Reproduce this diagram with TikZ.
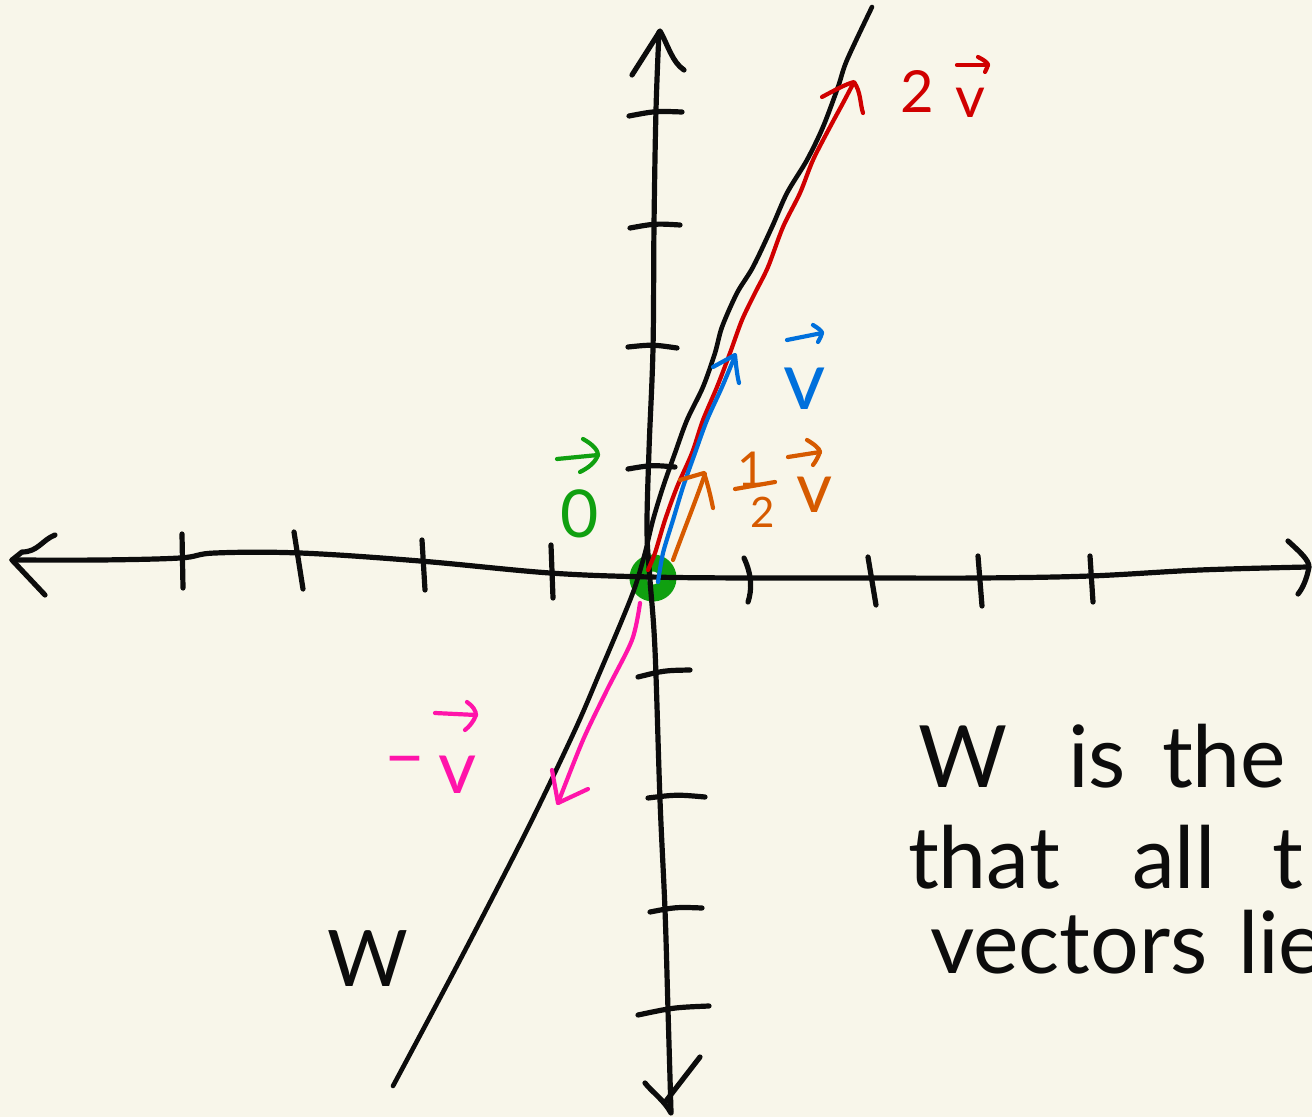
\documentclass[tikz,border=0pt]{standalone}
\usepackage{fontspec}
\setmainfont{Lato}
\definecolor{bg}{RGB}{248,246,234}
\definecolor{inkc}{RGB}{12,12,12}
\definecolor{penred}{RGB}{208,0,0}
\definecolor{penblue}{RGB}{0,112,220}
\definecolor{penorange}{RGB}{214,90,0}
\definecolor{pengreen}{RGB}{16,160,16}
\definecolor{penpink}{RGB}{255,20,170}
\newcommand{\fs}[1]{\fontsize{#1}{#1}\selectfont}
\begin{document}
\begin{tikzpicture}[x=0.5pt,y=-0.5pt,line cap=round,line join=round,
  axisline/.style={draw=inkc,line width=2.6pt},
  wline/.style={draw=inkc,line width=2.3pt},
  vecline/.style={line width=2.1pt},
  lbl/.style={inner sep=0pt,outer sep=0pt},
  word/.style={inner sep=0pt,outer sep=0pt,anchor=base west,text=inkc,font=\fs{43pt}}]
\fill[bg] (0,0) rectangle (1312,1117);
\useasboundingbox (0,0) rectangle (1312,1117);
\clip (0,0) rectangle (1312,1117);

% zero vector blob
\coordinate (O) at (653,578);
\draw[pengreen,line width=8.5pt] (O) circle[radius=15];

% horizontal axis
\draw[axisline] plot[smooth,tension=0.6] coordinates {(12,560) (100,560) (180,558) (215,553) (300,553) (420,561) (550,573) (650,577) (750,578) (870,578) (980,578) (1090,576) (1200,570) (1308,567)};
\draw[axisline] (55,535) .. controls (42,540) and (38,552) .. (22,552) -- (12,560) -- (45,595);
\draw[axisline] (1288,541) .. controls (1300,552) and (1309,560) .. (1309,567) .. controls (1307,578) and (1303,588) .. (1298,594);
\foreach \a/\b/\c/\d in {182/534/183/588, 294/532/303/589, 422/540/425/590, 551/545/553/598, 868/557/876/605, 978/556/982/606, 1090/556/1093/602}
  \draw[axisline] (\a,\b) -- (\c,\d);
\draw[axisline] (744,558) .. controls (752,575) and (752,590) .. (748,602);

% vertical axis
\draw[axisline] plot[smooth,tension=0.6] coordinates {(659,32) (656,110) (654,225) (653,348) (649,450) (647,530) (650,580) (655,650) (660,800) (665,910) (668,1010) (671,1112)};
\draw[axisline] (632,75) -- (660,31) .. controls (668,45) and (672,62) .. (684,70);
\draw[axisline] (645,1083) .. controls (652,1092) and (664,1100) .. (671,1113);
\draw[axisline] (700,1057) -- (666,1101);
\foreach \a/\b/\c/\d in {629/116/682/112, 630/228/680/225, 628/347/677/348, 628/469/675/467, 638/677/690/670, 648/798/705/797, 650/912/702/908, 638/1015/709/1006}
  \draw[axisline] (\a,\b) .. controls ({(\a+\c)/2},{(\b+\d)/2-3}) .. (\c,\d);

% subspace line W
\draw[wline] plot[smooth,tension=0.5] coordinates {(393,1086) (460,960) (527,830) (575,730) (600,672) (622,620) (635,587) (645,553) (653,520) (663,487) (675,453) (687,420) (703,387) (715,353) (722,327) (737,293) (753,267) (772,227) (787,193) (807,160) (823,127) (838,87) (847,60) (872,7)};

% 2v (red)
\draw[penred,vecline] plot[smooth,tension=0.5] coordinates {(648,570) (655,553) (665,520) (677,487) (692,453) (703,420) (717,387) (730,353) (742,320) (755,293) (768,267) (783,227) (800,193) (813,160) (830,127) (843,103) (853,84)};
\draw[penred,vecline] (822,97) .. controls (835,90) and (846,84) .. (854,82) .. controls (861,92) and (860,104) .. (863,113);

% v (blue)
\draw[penblue,vecline] plot[smooth,tension=0.5] coordinates {(658,582) (663,553) (673,520) (683,487) (695,453) (707,420) (722,387) (735,356)};
\draw[penblue,vecline] (713,367) -- (735,355) .. controls (736,365) and (737,375) .. (739,383);

% 1/2 v (orange)
\draw[penorange,vecline] (673,560) .. controls (684,530) and (696,500) .. (705,474);
\draw[penorange,vecline] (680,480) -- (704,473) .. controls (708,485) and (711,498) .. (713,508);

% -v (pink)
\draw[penpink,vecline] plot[smooth,tension=0.5] coordinates {(640,603) (632,640) (607,690) (583,740) (558,803)};
\draw[penpink,vecline] (552,770) -- (558,803) -- (588,789);

% label: zero vector
\node[lbl,text=pengreen,font=\fs{33pt}] (zero) at (580,514) {0};
\coordinate (zA) at (557,459);
\coordinate (zB) at (598,455);
\draw[pengreen,vecline] (zA) -- (zB);
\draw[pengreen,vecline] (583,439) .. controls (594,445) and (598,451) .. (zB) .. controls (595,463) and (588,468) .. (580,472);

% label: v (blue)
\node[lbl,text=penblue,font=\fs{41pt}] (vb) at (805,389) {v};
\draw[penblue,vecline] (787,340) -- (822,333);
\draw[penblue,vecline] (813,325) .. controls (818,328) and (822,331) .. (822,333) .. controls (821,337) and (819,340) .. (818,342);

% label: 1/2 v (orange)
\node[lbl,text=penorange,font=\fs{24pt}] (one) at (751,469) {1};
\draw[penorange,vecline] (735,489) -- (775,482);
\node[lbl,text=penorange,font=\fs{21pt}] (two) at (763,512) {2};
\node[lbl,text=penorange,font=\fs{35pt}] (vo) at (815,495) {v};
\draw[penorange,vecline] (788,457) -- (820,452);
\draw[penorange,vecline] (807,440) .. controls (814,444) and (820,449) .. (820,452) .. controls (818,457) and (816,461) .. (813,465);

% label: 2v (red)
\node[lbl,text=penred,font=\fs{29pt}] (tw) at (917,91) {2};
\node[lbl,text=penred,font=\fs{29pt}] (vr) at (970,103) {v};
\draw[penred,vecline] (957,65) -- (988,65);
\draw[penred,vecline] (978,57) .. controls (984,60) and (988,63) .. (988,65) .. controls (987,68) and (986,70) .. (985,72);

% label: -v (pink)
\node[lbl,text=penpink,font=\fs{37pt}] (mn) at (405,768) {–};
\node[lbl,text=penpink,font=\fs{37pt}] (vp) at (458,775) {v};
\draw[penpink,vecline] (435,713) -- (476,715);
\draw[penpink,vecline] (467,702) .. controls (473,706) and (476,711) .. (476,715) .. controls (474,721) and (469,727) .. (465,730);

% label W
\node[lbl,text=inkc,font=\fs{39pt}] (Wl) at (368,959) {W};

% explanatory text (cut at right edge, as in the reference)
\node[word] (t1) at (918,787) {W};
\node[word] (t2) at (1068,787) {is};
\node[word] (t3) at (1162,787) {the};
\node[word] (t4) at (908,888) {that};
\node[word] (t5) at (1132,888) {all};
\node[word] (t6) at (1272,888) {t};
\node[word] (t7) at (930,973) {vectors};
\node[word] (t8) at (1238,973) {lie};
\end{tikzpicture}
\end{document}
